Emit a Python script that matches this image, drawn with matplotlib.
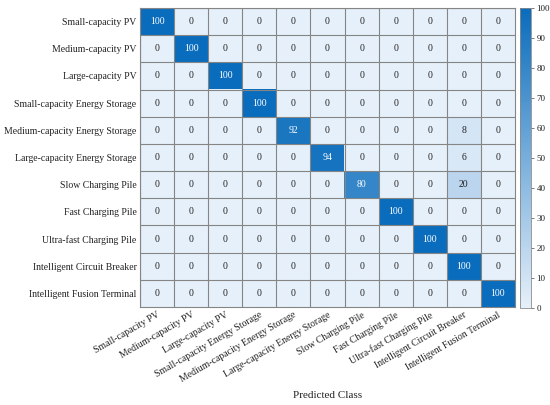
import numpy as np
import matplotlib
matplotlib.use("Agg")
import matplotlib.pyplot as plt
from matplotlib.colors import LinearSegmentedColormap

classes = ["Small-capacity PV", "Medium-capacity PV", "Large-capacity PV",
           "Small-capacity Energy Storage", "Medium-capacity Energy Storage",
           "Large-capacity Energy Storage", "Slow Charging Pile", "Fast Charging Pile",
           "Ultra-fast Charging Pile", "Intelligent Circuit Breaker",
           "Intelligent Fusion Terminal"]

diag = [100, 100, 100, 100, 92, 94, 80, 100, 100, 100, 100]
# off-diagonal (row, col, value)
off_rows = [4, 5, 6]
off_cols = [9, 9, 9]
off_vals = [8, 6, 20]
cbar_ticks = [0, 10, 20, 30, 40, 50, 60, 70, 80, 90, 100]

n = len(classes)
cm = np.zeros((n, n))
for i, v in enumerate(diag):
    cm[i, i] = v
for r, c, v in zip(off_rows, off_cols, off_vals):
    cm[r, c] = v

plt.rcParams['font.family'] = ['Liberation Serif', 'DejaVu Serif']

cmap = LinearSegmentedColormap.from_list("b", ["#e6f0fa", "#0a6cbc"])

fig = plt.figure(figsize=(5.5, 4.05), dpi=100)
ax = fig.add_axes([140/550, 1 - 307/405, 375/550, 299/405])
cax = fig.add_axes([520/550, 1 - 308/405, 11/550, 300/405])

im = ax.imshow(cm, cmap=cmap, vmin=0, vmax=100, aspect='auto')
for i in range(n):
    for j in range(n):
        v = cm[i, j]
        ax.text(j, i, f"{int(v)}", ha='center', va='center', fontsize=7,
                color='white' if v > 60 else '#222222')

ax.set_xticks(np.arange(n) - 0.5, minor=True)
ax.set_yticks(np.arange(n) - 0.5, minor=True)
ax.grid(which='minor', color='#858585', linewidth=0.8)
ax.tick_params(which='minor', length=0)
ax.tick_params(which='major', length=0, labelsize=7, pad=2.5, labelcolor='#222222')
ax.set_xticks(np.arange(n))
ax.set_yticks(np.arange(n))
ax.set_xticklabels(classes, rotation=30, ha='right', rotation_mode='anchor')
ax.set_yticklabels(classes)
for s in ax.spines.values():
    s.set_color('#858585')
    s.set_linewidth(0.8)
ax.set_xlabel("Predicted Class", fontsize=8, labelpad=5, color='#222222')

cb = fig.colorbar(im, cax=cax, ticks=cbar_ticks)
cb.outline.set_edgecolor('#8a8a8a')
cb.outline.set_linewidth(0.6)
cax.tick_params(labelsize=6.5, length=2.5, width=0.6, color='#666666', pad=1.5,
                labelcolor='#222222')

fig.savefig("out.png", dpi=100)
